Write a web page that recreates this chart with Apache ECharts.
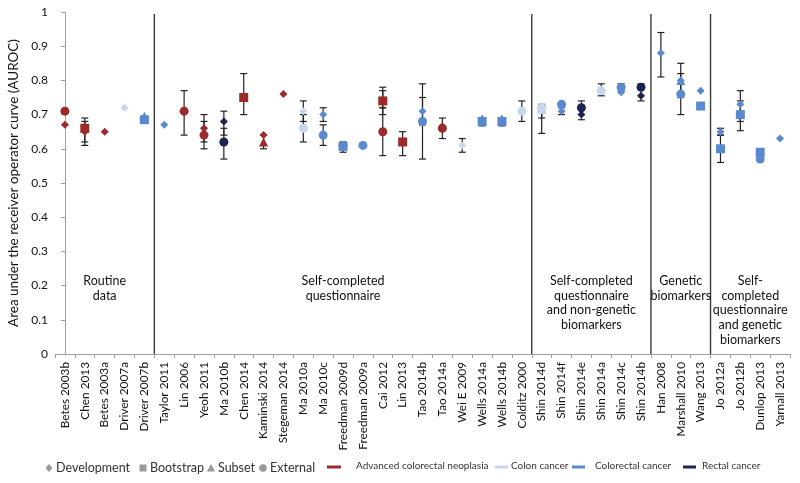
<!DOCTYPE html>
<html><head><meta charset="utf-8">
<script src="https://cdn.jsdelivr.net/npm/echarts@6/dist/echarts.min.js"></script>
<style>html,body{margin:0;padding:0;background:#fff}#c{width:800px;height:483px}</style>
</head><body><div id="c"></div>
<script>
const categories = ['Betes 2003b','Chen 2013','Betes 2003a','Driver 2007a','Driver 2007b','Taylor 2011','Lin 2006','Yeoh 2011','Ma 2010b','Chen 2014','Kaminski 2014','Stegeman 2014','Ma 2010a','Ma 2010c','Freedman 2009d','Freedman 2009a','Cai 2012','Lin 2013','Tao 2014b','Tao 2014a','Wei E 2009','Wells 2014a','Wells 2014b','Colditz 2000','Shin 2014d','Shin 2014f','Shin 2014e','Shin 2014a','Shin 2014c','Shin 2014b','Han 2008','Marshall 2010','Wang 2013','Jo 2012a','Jo 2012b','Dunlop 2013','Yarnall 2013'];
const yTicks = [0,0.1,0.2,0.3,0.4,0.5,0.6,0.7,0.8,0.9,1];

// Advanced colorectal neoplasia
const advDev  = [['Betes 2003b',0.67],['Chen 2013',0.65],['Betes 2003a',0.65],['Yeoh 2011',0.66],['Kaminski 2014',0.64],['Stegeman 2014',0.76],['Tao 2014a',0.665]];
const advBoot = [['Chen 2013',0.66],['Chen 2014',0.75],['Cai 2012',0.74],['Lin 2013',0.62]];
const advSub  = [['Kaminski 2014',0.62]];
const advExt  = [['Betes 2003b',0.71],['Lin 2006',0.71],['Yeoh 2011',0.64],['Cai 2012',0.65],['Tao 2014a',0.66]];
// Colon cancer
const colonDev  = [['Driver 2007a',0.72],['Ma 2010a',0.71],['Wei E 2009',0.61]];
const colonBoot = [['Shin 2014d',0.715]];
const colonExt  = [['Ma 2010a',0.66],['Colditz 2000',0.71],['Shin 2014d',0.72],['Shin 2014a',0.77]];
// Colorectal cancer
const crcDev  = [['Taylor 2011',0.67],['Ma 2010c',0.70],['Tao 2014b',0.71],['Shin 2014f',0.71],['Shin 2014c',0.765],['Han 2008',0.88],['Marshall 2010',0.80],['Wang 2013',0.77],['Jo 2012a',0.65],['Jo 2012b',0.73],['Yarnall 2013',0.63]];
const crcBoot = [['Driver 2007b',0.685],['Wells 2014a',0.68],['Wells 2014b',0.68],['Wang 2013',0.725],['Jo 2012a',0.60],['Jo 2012b',0.70],['Dunlop 2013',0.59],['Freedman 2009d',0.607]];
const crcSub  = [['Driver 2007b',0.695],['Wells 2014a',0.688],['Wells 2014b',0.688],['Marshall 2010',0.80]];
const crcExt  = [['Ma 2010c',0.64],['Freedman 2009d',0.61],['Freedman 2009a',0.61],['Tao 2014b',0.68],['Shin 2014f',0.73],['Shin 2014c',0.78],['Marshall 2010',0.76],['Dunlop 2013',0.57]];
// Rectal cancer
const rectDev = [['Ma 2010b',0.68],['Shin 2014e',0.70],['Shin 2014b',0.755]];
const rectExt = [['Ma 2010b',0.62],['Shin 2014e',0.72],['Shin 2014b',0.78]];

// Confidence intervals [study, low, high]
const errorBars = [
 ['Chen 2013',0.61,0.69],['Chen 2013',0.62,0.68],['Lin 2006',0.64,0.77],['Yeoh 2011',0.62,0.70],['Yeoh 2011',0.60,0.68],
 ['Ma 2010b',0.64,0.71],['Ma 2010b',0.57,0.66],['Chen 2014',0.70,0.82],['Kaminski 2014',0.60,0.64],
 ['Ma 2010a',0.68,0.74],['Ma 2010a',0.62,0.70],['Ma 2010c',0.68,0.72],['Ma 2010c',0.61,0.67],['Freedman 2009d',0.59,0.62],
 ['Cai 2012',0.70,0.78],['Cai 2012',0.58,0.77],['Cai 2012',0.72,0.72],['Lin 2013',0.58,0.65],['Tao 2014b',0.57,0.79],['Tao 2014b',0.67,0.75],
 ['Tao 2014a',0.63,0.69],['Wei E 2009',0.59,0.63],['Wells 2014a',0.667,0.69],['Wells 2014b',0.667,0.69],['Colditz 2000',0.68,0.74],
 ['Shin 2014d',0.69,0.73],['Shin 2014d',0.645,0.72],['Shin 2014f',0.70,0.72],['Shin 2014e',0.685,0.74],['Shin 2014a',0.755,0.79],
 ['Shin 2014c',0.77,0.79],['Shin 2014b',0.74,0.79],['Han 2008',0.81,0.94],['Marshall 2010',0.75,0.85],['Marshall 2010',0.70,0.82],
 ['Jo 2012a',0.56,0.64],['Jo 2012a',0.64,0.66],['Jo 2012b',0.68,0.77],['Jo 2012b',0.653,0.74]
];

const groupLabels = ['Routine\ndata','Self-completed\nquestionnaire','Self-completed\nquestionnaire\nand non-genetic\nbiomarkers','Genetic\nbiomarkers','Self-\ncompleted\nquestionnaire\nand genetic\nbiomarkers'];
const groupFirst = ['Betes 2003b','Taylor 2011','Shin 2014d','Han 2008','Jo 2012a'];
const groupLast  = ['Driver 2007b','Colditz 2000','Shin 2014b','Wang 2013','Yarnall 2013'];

const shapeNames = ['Development','Bootstrap','Subset','External'];
const outcomeNames = ['Advanced colorectal neoplasia','Colon cancer','Colorectal cancer','Rectal cancer'];

const COL = {adv:'#9C2A2B', colon:'#C7D7EE', crc:'#5B89CF', rect:'#1C2452'};
const SYM = {dev:['diamond',8], boot:['rect',9], sub:['triangle',9], ext:['circle',9]};
const FONT = 'Lato, "Open Sans", sans-serif';

function sc(name, data, col, sym){
  return {type:'scatter', name, xAxisIndex:0, yAxisIndex:0, symbol:SYM[sym][0], symbolSize:SYM[sym][1],
    itemStyle:{color:COL[col], opacity:1}, data:data.map(d=>[categories.indexOf(d[0]), d[1]]), z:5, silent:true};
}

const chart = echarts.init(document.getElementById('c'), null, {renderer:'canvas'});

const boundaries = groupLast.slice(0,-1).map(n=>categories.indexOf(n)+0.5);
const centers = groupFirst.map((f,i)=>[(categories.indexOf(f)+categories.indexOf(groupLast[i]))/2, i]);

const series = [
  {type:'custom', xAxisIndex:0, yAxisIndex:0, z:3, silent:true,
   data: errorBars.map(e=>[categories.indexOf(e[0]), e[1], e[2]]),
   renderItem(params, api){
     const lo = api.coord([api.value(0), api.value(1)]);
     const hi = api.coord([api.value(0), api.value(2)]);
     const w = 3.5, st = {stroke:'#222', lineWidth:1.2};
     return {type:'group', children:[
       {type:'line', shape:{x1:lo[0],y1:lo[1],x2:hi[0],y2:hi[1]}, style:st},
       {type:'line', shape:{x1:lo[0]-w,y1:lo[1],x2:lo[0]+w,y2:lo[1]}, style:st},
       {type:'line', shape:{x1:hi[0]-w,y1:hi[1],x2:hi[0]+w,y2:hi[1]}, style:st}
     ]};
   }},
  {type:'custom', xAxisIndex:1, yAxisIndex:0, z:2, silent:true,
   data: boundaries.map(b=>[b]),
   renderItem(params, api){
     const a = api.coord([api.value(0), 0]);
     const b = api.coord([api.value(0), 0.994]);
     return {type:'line', shape:{x1:a[0],y1:a[1],x2:b[0],y2:b[1]}, style:{stroke:'#3a3a3a', lineWidth:1.4}};
   }},
  {type:'custom', xAxisIndex:1, yAxisIndex:0, z:2, silent:true,
   data: centers,
   renderItem(params, api){
     const p = api.coord([api.value(0), 0.236]);
     return {type:'text', x:p[0], y:p[1], style:{text:groupLabels[api.value(1)], fill:'#111', font:'12.5px '+FONT, textAlign:'center', textVerticalAlign:'top', lineHeight:14.8}};
   }},
  sc('advDev',advDev,'adv','dev'), sc('colonDev',colonDev,'colon','dev'), sc('crcDev',crcDev,'crc','dev'), sc('rectDev',rectDev,'rect','dev'),
  sc('advSub',advSub,'adv','sub'), sc('crcSub',crcSub,'crc','sub'),
  sc('advBoot',advBoot,'adv','boot'), sc('colonBoot',colonBoot,'colon','boot'), sc('crcBoot',crcBoot,'crc','boot'),
  sc('advExt',advExt,'adv','ext'), sc('colonExt',colonExt,'colon','ext'), sc('crcExt',crcExt,'crc','ext'), sc('rectExt',rectExt,'rect','ext')
];

// legend graphics
const ly = 468;
const gray = '#9a9a9a';
const legendGraphics = [];
const shapeLegendX = [49, 143, 211, 263];
const shapeTextX = [56, 150, 218, 270];
const shapePaths = [
  x=>({type:'polygon', shape:{points:[[x,ly-4],[x+3.5,ly],[x,ly+4],[x-3.5,ly]]}}),
  x=>({type:'rect', shape:{x:x-3.5,y:ly-3.5,width:7,height:7}}),
  x=>({type:'polygon', shape:{points:[[x,ly-4],[x+4,ly+3.5],[x-4,ly+3.5]]}}),
  x=>({type:'circle', shape:{cx:x,cy:ly,r:3.8}})
];
shapeNames.forEach((n,i)=>{
  const g = shapePaths[i](shapeLegendX[i]); g.style = {fill:gray}; legendGraphics.push(g);
  legendGraphics.push({type:'text', x:shapeTextX[i], y:ly, style:{text:n, fill:'#333', font:'12.5px '+FONT, textVerticalAlign:'middle'}});
});
const lineX = [[327,341],[495,508],[572,585],[683,696]];
const lineTextX = [356, 511, 595, 702];
const lineCols = [COL.adv, COL.colon, COL.crc, COL.rect];
outcomeNames.forEach((n,i)=>{
  legendGraphics.push({type:'line', shape:{x1:lineX[i][0],y1:ly-1,x2:lineX[i][1],y2:ly-1}, style:{stroke:lineCols[i], lineWidth:3}});
  legendGraphics.push({type:'text', x:lineTextX[i], y:ly-2, style:{text:n, fill:'#333', font:'10px '+FONT, textVerticalAlign:'middle'}});
});

chart.setOption({
  animation:false,
  backgroundColor:'#fff',
  grid:{left:55, right:10, top:12, bottom:129, containLabel:false, outerBoundsMode:'none'},
  xAxis:[
    {type:'category', data:categories, boundaryGap:true,
     axisLine:{lineStyle:{color:'#a0a0a0'}},
     axisTick:{show:true, alignWithLabel:false, length:4, lineStyle:{color:'#a0a0a0'}},
     axisLabel:{rotate:90, interval:0, color:'#111', fontFamily:FONT, fontSize:11.8, margin:8},
     splitLine:{show:false}},
    {type:'value', min:-0.5, max:categories.length-0.5, show:false}
  ],
  yAxis:{type:'value', min:0, max:1, interval:0.1,
    name:'Area under the receiver operator curve (AUROC)', nameLocation:'middle', nameGap:31,
    nameTextStyle:{fontFamily:FONT, fontSize:13.5, color:'#111'},
    axisLine:{show:true, lineStyle:{color:'#a0a0a0'}},
    axisTick:{show:true, length:4, lineStyle:{color:'#a0a0a0'}},
    axisLabel:{color:'#111', fontFamily:FONT, fontSize:12, margin:7, formatter:v=>{const t=yTicks.find(y=>Math.abs(y-v)<1e-6); return t===undefined?'':String(t);}},
    splitLine:{show:false}},
  series,
  graphic: legendGraphics
});
</script></body></html>
